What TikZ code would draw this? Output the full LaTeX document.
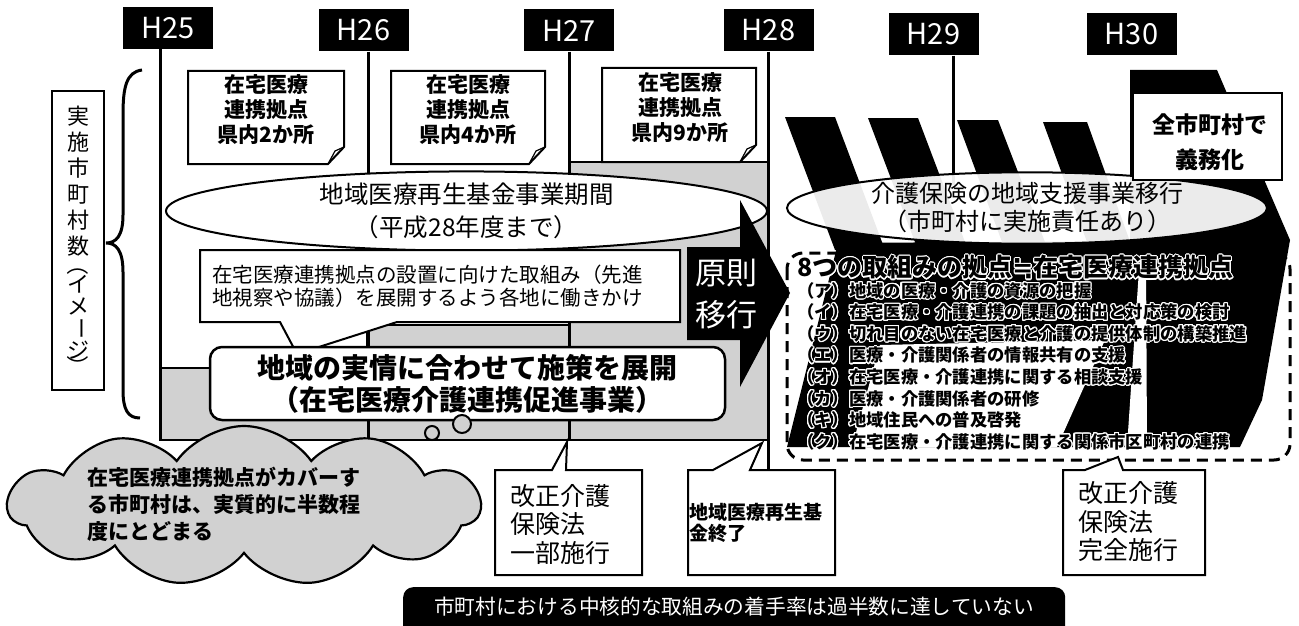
\documentclass[tikz,border=0pt]{standalone}
\usepackage{fontspec}
\setmainfont{Noto Sans CJK JP}
\newfontfamily\jp{Noto Sans CJK JP}
\newfontfamily\symf{DejaVu Sans}
\usepackage[copies]{contour}
\contourlength{1.1pt}
\contournumber{20}
\usetikzlibrary{shapes.symbols,shapes.geometric}
\newcommand{\jpsize}[2]{\fontsize{#1pt}{#2pt}\selectfont}
\newcommand{\vrot}[1]{\rotatebox[origin=c]{-90}{#1}}
\begin{document}
\begin{tikzpicture}[x=1pt,y=-1pt,
  hlab/.style={fill=black,text=white,font=\jp\jpsize{29}{29},minimum width=90pt,minimum height=42pt,inner sep=0pt},
  tline/.style={line width=3pt},
  shp/.style={draw,line width=2pt,fill=white},
  notetext/.style={font=\bfseries\jpsize{21}{25},align=center,inner sep=0pt},
  halo/.style={font=\bfseries\jpsize{17.3}{21.6},align=left,inner sep=0pt}
]
\useasboundingbox (0,0) rectangle (1299,626);
\fill[white] (0,0) rectangle (1299,626);

% ---------- staircase (left chart) ----------
\filldraw[fill=black!18,line width=2pt] (160,440) -- (160,368) -- (367,368) -- (367,325) -- (569,325) -- (569,162) -- (768,162) -- (768,440) -- cycle;

% ---------- year labels and lines ----------
\node[hlab] (h25) at (168,28) {H25};
\node[hlab] (h26) at (363.5,30.5) {H26};
\node[hlab] (h27) at (569,30.5) {H27};
\node[hlab] (h28) at (768.5,30.5) {H28};
\node[hlab] (h29) at (933.5,34.5) {H29};
\node[hlab] (h30) at (1131.5,34.5) {H30};
\coordinate (e25) at (160,440);
\coordinate (e26) at (368,440);
\coordinate (e27) at (569,440);
\coordinate (e28) at (768,470);
\coordinate (e29) at (953,185);
\draw[tline] (h25.south -| e25) -- (e25);
\draw[tline] (h26.south -| e26) -- (e26);
\draw[tline] (h27.south -| e27) -- (e27);
\draw[tline] (h28.south -| e28) -- (e28);

% ---------- vertical label and brace ----------
\draw[line width=2pt] (52,91) rectangle (104,390);
\node[anchor=north,font=\jpsize{22}{26},align=center,inner sep=0pt] (vlab) at (78,106)
 {実\\施\\市\\町\\村\\数\\[-8pt]\vrot{（}\\[-6pt]イ\\[-4pt]メ\\[-7pt]\vrot{ー}\\[-1pt]ジ\\[-10pt]\vrot{）}};
\draw[line width=3pt] (142,70) .. controls (126,72) and (123,88) .. (123,115) -- (123,215)
  .. controls (123,236) and (116,243) .. (106,243)
  .. controls (116,243) and (123,250) .. (123,272) -- (123,390)
  .. controls (123,410) and (128,418) .. (140,418);

% ---------- sticky notes ----------
\draw[shp] (188,71) -- (344,71) -- (344,147) -- (328,164) -- (188,164) -- cycle;
\draw[line width=1.2pt] (344,147) -- (335,151) -- (328,164);
\node[notetext] (note1) at (266,110) {在宅医療\\連携拠点\\県内2か所};
\draw[shp] (391,71) -- (545,71) -- (545,147) -- (529,164) -- (391,164) -- cycle;
\draw[line width=1.2pt] (545,147) -- (536,151) -- (529,164);
\node[notetext] (note2) at (468,110) {在宅医療\\連携拠点\\県内4か所};
\draw[shp] (602,68) -- (756,68) -- (756,145) -- (740,162) -- (602,162) -- cycle;
\draw[line width=1.2pt] (756,145) -- (747,149) -- (740,162);
\node[notetext] (note3) at (680,108) {在宅医療\\連携拠点\\県内9か所};

% ---------- fund period ellipse ----------
\node[ellipse,draw,line width=2pt,fill=white,minimum width=601pt,minimum height=73pt,inner sep=0pt,
  font=\jpsize{24.5}{33},align=center] (fund) at (466.5,211) {地域医療再生基金事業期間\\（平成28年度まで）};

% ---------- callout: work ----------
\draw[shp] (200,250) -- (680,250) -- (680,322) -- (397,322) -- (297,354) -- (280,322) -- (200,322) -- cycle;
\node[anchor=west,font=\jpsize{20.5}{23.5},align=left,inner sep=0pt] (work) at (212,286)
 {在宅医療連携拠点の設置に向けた取組み（先進\\地視察や協議）を展開するよう各地に働きかけ};

% ---------- local box ----------
\node[draw,line width=2.5pt,fill=white,rounded corners=12pt,minimum width=515pt,minimum height=73pt,
  font=\bfseries\jpsize{28}{32},align=center,inner sep=0pt] (local) at (467.5,383.5)
 {地域の実情に合わせて施策を展開\\（在宅医療介護連携促進事業）};

% ---------- arrow ----------
\fill (687,247) -- (740,247) -- (740,200) -- (790,293) -- (740,387) -- (740,340) -- (687,340) -- cycle;
\node[text=white,font=\jpsize{31}{42},align=center,inner sep=0pt] (gensoku) at (726,294) {原則\\移行};

% ---------- right: bars ----------
\fill (785,117) -- (835,117) -- (885,250) -- (835,250) -- cycle;
\fill (868,118) -- (918,118) -- (968,250) -- (918,250) -- cycle;
\fill (957,120) -- (998,120) -- (1048,250) -- (1005,250) -- cycle;
\fill (1043,122) -- (1087,122) -- (1133,250) -- (1090,250) -- cycle;
\fill (1130,70) -- (1217,70) -- (1290,240) -- (1130,245) -- cycle;
\fill (838,243) -- (1290,240) -- (1262,400) -- (1240,447) -- (787,447) -- cycle;
\fill[white] (852,447) -- (880,345) -- (1105,340) -- (1057,447) -- cycle;
\fill[white] (1127,447) -- (1147,447) -- (1146,255) -- (1140,255) -- cycle;
\draw[tline] (h29.south -| e29) -- (e29);

\node[ellipse,draw,line width=2pt,fill=white,fill opacity=0.92,text opacity=1,minimum width=480pt,minimum height=64pt,
  inner sep=0pt,font=\jpsize{24}{28},align=center] (kaigo) at (1027,208) {介護保険の地域支援事業移行\\（市町村に実施責任あり）};

\node[draw,line width=2pt,fill=white,minimum width=149pt,minimum height=87pt] (duty) at (1207.5,136.5) {};
\node[font=\bfseries\jpsize{23}{35},align=center,inner sep=0pt] (dutytxt) at (1210,142) {全市町村で\\義務化};

\draw[line width=3pt,dash pattern=on 11pt off 7pt,rounded corners=16pt] (787,253) rectangle (1290,460);
\node[anchor=west,font=\bfseries\jpsize{25}{25},inner sep=0pt] (ttl) at (797,268)
 {\contour{white}{8つの取組みの拠点{\symf\bfseries ≒}在宅医療連携拠点}};
\node[halo,anchor=north west] (items) at (797,282)
 {\contour{white}{（ア）地域の医療・介護の資源の把握}\\
  \contour{white}{（イ）在宅医療・介護連携の課題の抽出と対応策の検討}\\
  \contour{white}{（ウ）切れ目のない在宅医療と介護の提供体制の構築推進}\\
  \contour{white}{（エ）医療・介護関係者の情報共有の支援}\\
  \contour{white}{（オ）在宅医療・介護連携に関する相談支援}\\
  \contour{white}{（カ）医療・介護関係者の研修}\\
  \contour{white}{（キ）地域住民への普及啓発}\\
  \contour{white}{（ク）在宅医療・介護連携に関する関係市区町村の連携}};

% ---------- cloud ----------
\node[cloud,cloud puffs=11,cloud puff arc=110,aspect=3,draw,line width=2.2pt,fill=black!18,
  minimum width=472pt,minimum height=160pt,inner sep=0pt] (cloud) at (244,506) {};
\node[circle,draw,line width=2pt,fill=black!18,minimum size=14pt,inner sep=0pt] (bub2) at (432,433) {};
\node[circle,draw,line width=2pt,fill=black!18,minimum size=18pt,inner sep=0pt] (bub1) at (462,424) {};
\node[anchor=west,font=\bfseries\jpsize{21}{27},align=left,inner sep=0pt] (cloudtxt) at (87,504)
 {在宅医療連携拠点がカバーす\\る市町村は、実質的に半数程\\度にとどまる};

% ---------- bottom callouts ----------
\draw[shp] (495,470) -- (552,470) -- (567,442) -- (566,470) -- (642,470) -- (642,575) -- (495,575) -- cycle;
\node[anchor=west,font=\jpsize{25}{28.5},align=left,inner sep=0pt] (rev1) at (510,524.5) {改正介護\\保険法\\一部施行};
\draw[shp] (688,470) -- (713,470) -- (762,443) -- (750,470) -- (835,470) -- (835,575) -- (688,575) -- cycle;
\node[anchor=west,font=\bfseries\jpsize{19}{21},align=left,inner sep=0pt] (fundend) at (689,523) {地域医療再生基\\金終了};
\draw[shp] (1063,470) -- (1085,470) -- (1118,457) -- (1123,470) -- (1205,470) -- (1205,575) -- (1063,575) -- cycle;
\node[anchor=west,font=\jpsize{25}{28.5},align=left,inner sep=0pt] (rev2) at (1078,522) {改正介護\\保険法\\完全施行};

% ---------- bottom bar ----------
\node[fill=black,rounded corners=10pt,minimum width=662pt,minimum height=60pt,anchor=north west,inner sep=0pt] (bar) at (403,587) {};
\node[text=white,font=\jpsize{20.7}{20.7},inner sep=0pt] (bartxt) at (734,607) {市町村における中核的な取組みの着手率は過半数に達していない};
\end{tikzpicture}
\end{document}
